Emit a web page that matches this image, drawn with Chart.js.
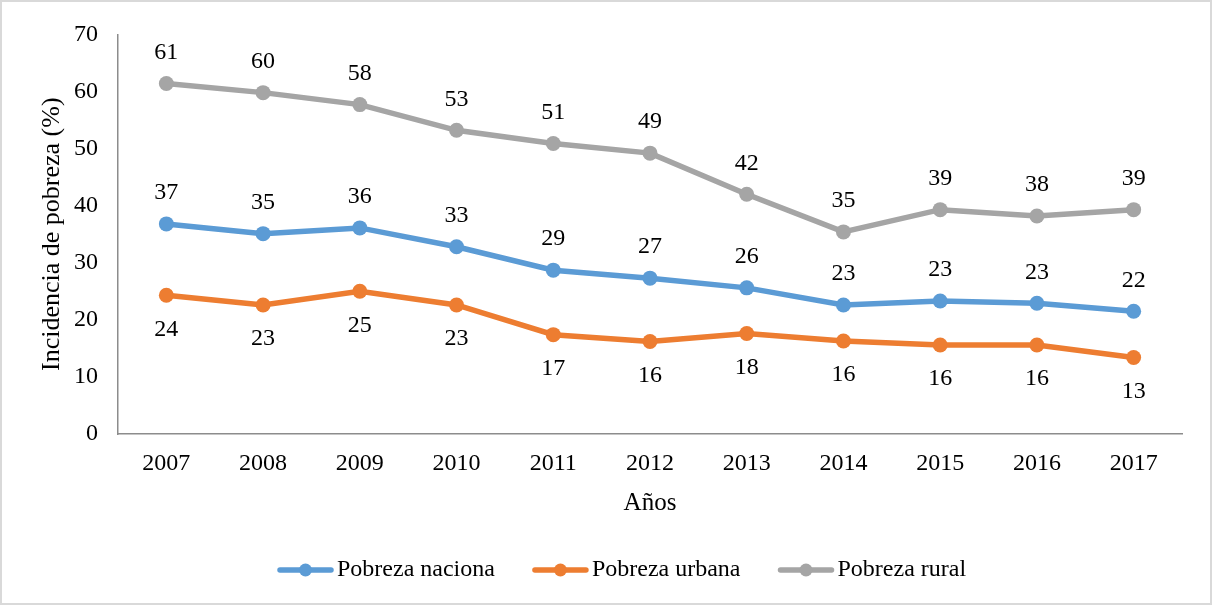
<!DOCTYPE html>
<html><head><meta charset="utf-8">
<script src="https://cdn.jsdelivr.net/npm/chart.js@4.4.0/dist/chart.umd.min.js"></script>
<style>html,body{margin:0;padding:0;background:#fff;overflow:hidden}#wrap{width:1212px;height:605px;position:relative}</style>
</head><body><div id="wrap"><canvas id="c" width="1212" height="605"></canvas></div>
<script>
const years = ['2007','2008','2009','2010','2011','2012','2013','2014','2015','2016','2017'];
const nacional = [36.8,35.1,36.1,32.8,28.7,27.3,25.6,22.6,23.3,22.9,21.5];
const urbana = [24.3,22.6,25.0,22.6,17.4,16.2,17.6,16.3,15.6,15.6,13.4];
const rural = [61.4,59.8,57.7,53.2,50.9,49.2,42.0,35.4,39.3,38.2,39.3];
const seriesNames = ['Pobreza naciona','Pobreza urbana','Pobreza rural'];
const seriesColors = ['#5B9BD5','#ED7D31','#A5A5A5'];
const labelSide = ['above','below','above'];
const yMin = 0, yMax = 70, yStep = 10;
const xTitle = 'Años';
const yTitle = 'Incidencia de pobreza (%)';

const FONT = "'Liberation Serif','Times New Roman',serif";

const borderPlugin = {
  id:'outerBorder',
  beforeDraw(chart){
    const ctx = chart.ctx;
    ctx.save();
    ctx.fillStyle='#fff';
    ctx.fillRect(0,0,chart.width,chart.height);
    ctx.strokeStyle='#d9d9d9';
    ctx.lineWidth=2;
    ctx.strokeRect(1,1,chart.width-2,chart.height-2);
    ctx.restore();
  }
};

const labelPlugin = {
  id:'valueLabels',
  afterDatasetsDraw(chart){
    const ctx = chart.ctx;
    ctx.save();
    ctx.font = "24px " + FONT;
    ctx.fillStyle = '#000';
    ctx.textAlign = 'center';
    ctx.textBaseline = 'middle';
    chart.data.datasets.forEach((ds, i) => {
      const meta = chart.getDatasetMeta(i);
      meta.data.forEach((el, j) => {
        const v = Math.round(ds.data[j]);
        const dy = labelSide[i] === 'above' ? -31 : 34;
        ctx.fillText(String(v), el.x, el.y + dy);
      });
    });
    ctx.restore();
  }
};

const legendPlugin = {
  id:'customLegend',
  afterDraw(chart){
    const ctx = chart.ctx;
    ctx.save();
    ctx.font = "24px " + FONT;
    ctx.textBaseline = 'middle';
    ctx.textAlign = 'left';
    const y = 570;
    let x = 278;
    chart.data.datasets.forEach((ds, i) => {
      ctx.strokeStyle = ds.borderColor;
      ctx.lineWidth = 5.5;
      ctx.lineCap = 'round';
      ctx.beginPath();
      ctx.moveTo(x+2, y); ctx.lineTo(x+53, y); ctx.stroke();
      ctx.fillStyle = ds.borderColor;
      ctx.beginPath(); ctx.arc(x+27.5, y, 6.5, 0, Math.PI*2); ctx.fill();
      ctx.fillStyle = '#000';
      ctx.fillText(ds.label, x+59, y);
      x += 59 + ctx.measureText(ds.label).width + 38;
    });
    ctx.restore();
  }
};

const mk = (i, data) => ({
  label: seriesNames[i], data,
  borderColor: seriesColors[i], backgroundColor: seriesColors[i],
  pointBackgroundColor: seriesColors[i], pointBorderColor: seriesColors[i],
  borderWidth: 5.5, pointRadius: 7.5, pointBorderWidth: 0, pointHoverRadius: 7.5,
  tension: 0, fill: false
});

new Chart(document.getElementById('c'), {
  type:'line',
  data:{ labels: years, datasets:[mk(0,nacional), mk(1,urbana), mk(2,rural)] },
  options:{
    responsive:false, animation:false, events:[],
    layout:{ padding:{ left:0, top:29, right:30, bottom:87 } },
    plugins:{ legend:{display:false}, tooltip:{enabled:false} },
    scales:{
      x:{
        offset:true,
        grid:{display:false, drawTicks:false},
        border:{display:true, color:'#8c8c8c', width:1.5},
        ticks:{ font:{family:FONT, size:24}, color:'#000', padding:15 },
        title:{ display:true, text:xTitle, font:{family:FONT, size:25}, color:'#000', padding:{top:0,bottom:0} },
        afterFit(s){ s.height = 84; }
      },
      y:{
        min:yMin, max:yMax,
        grid:{display:false, drawTicks:false},
        border:{display:true, color:'#8c8c8c', width:1.5},
        ticks:{ stepSize:yStep, font:{family:FONT, size:24}, color:'#000', padding:20 },
        title:{ display:true, text:yTitle, font:{family:FONT, size:26}, color:'#000', padding:{top:37,bottom:0} },
        afterFit(s){ s.width = 118; }
      }
    }
  },
  plugins:[borderPlugin, labelPlugin, legendPlugin]
});
</script></body></html>
